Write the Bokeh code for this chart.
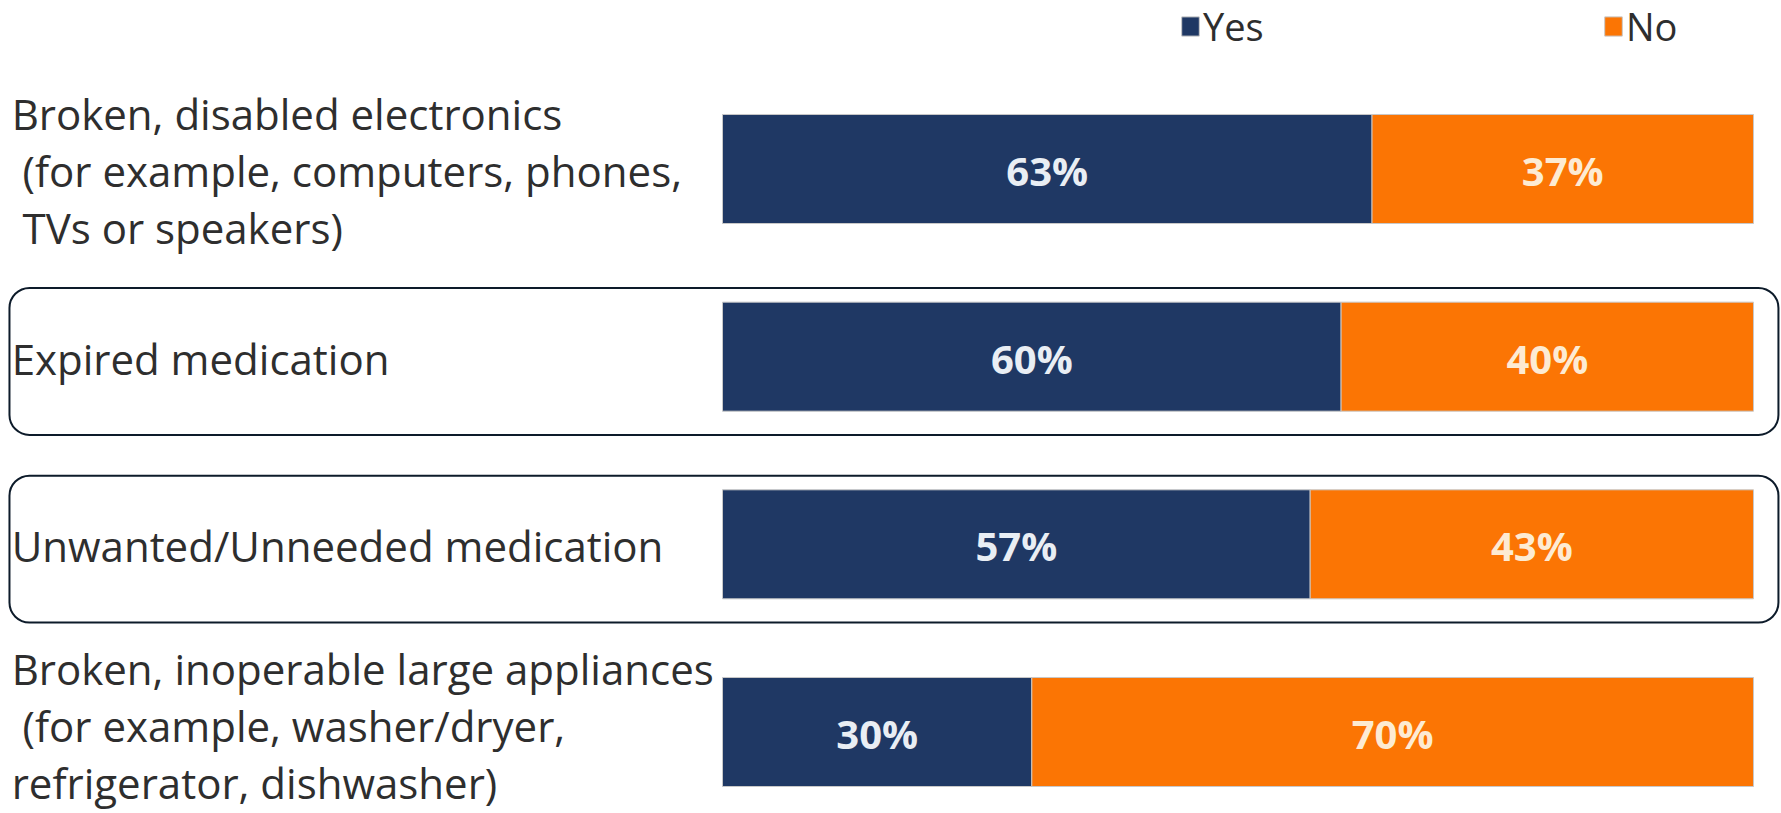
from bokeh.plotting import figure
from bokeh.models import Range1d, ColumnDataSource, BoxAnnotation, Legend, LegendItem
from bokeh.core.properties import value
from bokeh.embed import file_html
from bokeh.resources import INLINE

# ---- data ----
categories = [
    "Broken, disabled electronics\n (for example, computers, phones,\n TVs or speakers)",
    "Expired medication",
    "Unwanted/Unneeded medication",
    "Broken, inoperable large appliances\n (for example, washer/dryer,\nrefrigerator, dishwasher)",
]
yes = [63, 60, 57, 30]
no = [37, 40, 43, 70]
series = ["Yes", "No"]
highlighted = ["Expired medication", "Unwanted/Unneeded medication"]

NAVY = "#1F3864"
ORANGE = "#FB7504"
TEXT = "#2E2E2E"
FONT = "Open Sans"

n = len(categories)
pos = [n - 1 - i for i in range(n)]  # top category drawn at top

W, H = 1780, 812
X0, X1 = -70.03, 102.62
Y0, Y1 = -0.4290, 3.8978

src = ColumnDataSource(dict(
    y=pos,
    yes=yes,
    no=no,
    total=[a + b for a, b in zip(yes, no)],
    yes_mid=[a / 2 for a in yes],
    no_mid=[a + b / 2 for a, b in zip(yes, no)],
    yes_lbl=[f"{a}%" for a in yes],
    no_lbl=[f"{b}%" for b in no],
))

# category label lines (one text per line), kept inside the canvas
LINE_GAP = 57
LBL_SIZE = 42
MAX_MID = H - 30  # lowest allowed line centre in screen px
ly, ltxt, loff = [], [], []
for c, yy in zip(categories, pos):
    lines = c.split("\n")
    k = len(lines)
    base = 1.5
    py = (Y1 - yy) / (Y1 - Y0) * H
    last = py + base + (k - 1) / 2 * LINE_GAP
    if last > MAX_MID:
        base -= last - MAX_MID
    for j, ln in enumerate(lines):
        stripped = ln.lstrip(" ")
        ltxt.append("\u00a0" * (len(ln) - len(stripped)) + stripped)
        ly.append(yy)
        loff.append(base + (j - (k - 1) / 2) * LINE_GAP)
lbl_src = ColumnDataSource(dict(y=ly, text=ltxt, off=loff))

p = figure(width=W, height=H, x_range=Range1d(X0, X1),
           y_range=Range1d(Y0, Y1),
           x_axis_type=None, y_axis_type=None,
           toolbar_location=None, output_backend="svg", min_border=0,
           outline_line_color=None)
p.grid.visible = False

BAR_H = 0.581
r_yes = p.hbar(y="y", left=0, right="yes", height=BAR_H, source=src,
               fill_color=NAVY, line_color="#C8C8C8", line_width=1)
r_no = p.hbar(y="y", left="yes", right="total", height=BAR_H, source=src,
              fill_color=ORANGE, line_color="#C8C8C8", line_width=1)

# value labels
PCT_SIZE = 40
p.text(x="yes_mid", y="y", text="yes_lbl", source=src, text_align="center",
       text_baseline="alphabetic", text_font=value(FONT), text_font_style="bold",
       text_font_size=f"{PCT_SIZE}px", text_color="#E9EEF4", y_offset=1.5)
p.text(x="no_mid", y="y", text="no_lbl", source=src, text_align="center",
       text_baseline="alphabetic", text_font=value(FONT), text_font_style="bold",
       text_font_size=f"{PCT_SIZE}px", text_color="#FDEBD3", y_offset=1.5)

# category labels
p.text(x=-68.95, y="y", text="text", y_offset="off", source=lbl_src,
       text_align="left", text_baseline="alphabetic", text_font=value(FONT),
       text_font_size=f"{LBL_SIZE}px", text_color=TEXT)

# highlight boxes
for c in highlighted:
    yy = pos[categories.index(c)]
    p.add_layout(BoxAnnotation(left=-69.16, right=102.42, top=yy + 0.366,
                               bottom=yy - 0.417, border_radius=20,
                               fill_alpha=0, line_color="#0D1B2A",
                               line_alpha=1.0, line_width=2))

# legends
for lbl, r, xloc in [(series[0], r_yes, 1179), (series[1], r_no, 1602)]:
    lg = Legend(items=[LegendItem(label=lbl, renderers=[r])],
                location=(xloc, 760), orientation="horizontal",
                padding=0, margin=0, border_line_alpha=0,
                background_fill_alpha=0, glyph_width=22, glyph_height=24,
                label_standoff=2, label_text_font=FONT,
                label_text_font_size="38px", label_text_color=TEXT)
    p.add_layout(lg)

open("out.html", "w").write(file_html(p, INLINE))
